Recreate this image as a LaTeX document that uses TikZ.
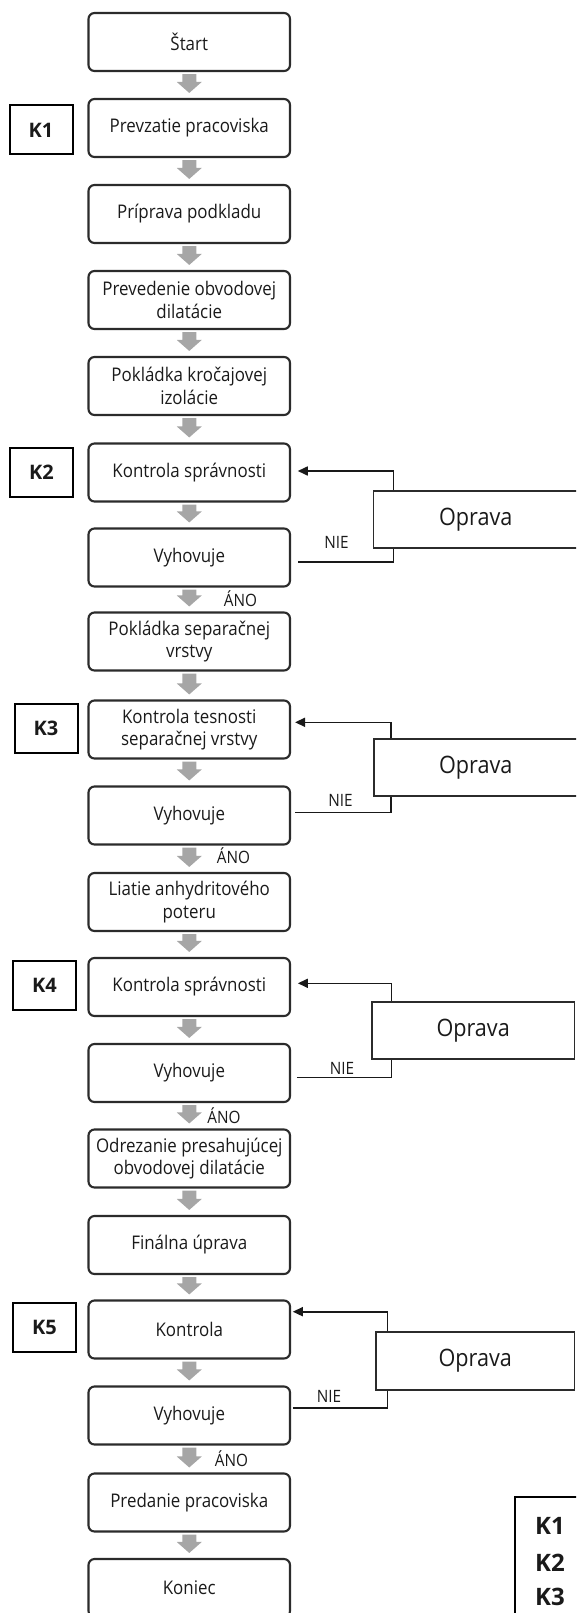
\documentclass[tikz,border=0pt]{standalone}
\usepackage{fontspec}
\setmainfont{Open Sans}[FakeStretch=0.9]
\newfontfamily\klabelfont{Open Sans}
\usetikzlibrary{arrows.meta,calc}
\definecolor{boxline}{HTML}{2B2B2B}
\definecolor{arrowgray}{HTML}{A6A6A6}
\definecolor{txt}{HTML}{1A1A1A}
\tikzset{
 stepbox/.style={draw=boxline, line width=2.1pt, rounded corners=6pt, minimum width=201.5pt, minimum height=58pt, inner sep=1pt, align=center, text=txt, font=\fontsize{18.8pt}{22.5pt}\selectfont},
 kbox/.style={draw=black, line width=2pt, minimum width=63pt, minimum height=49pt, inner sep=0pt, text=txt, font=\klabelfont\bfseries\fontsize{20pt}{22pt}\selectfont},
 opbox/.style={draw=boxline, fill=white, line width=1.8pt, inner sep=0pt, minimum height=57.5pt, text=txt, font=\fontsize{24pt}{26pt}\selectfont},
 fb/.style={draw=black!90, line width=1.6pt},
 fbarrow/.style={fb, -{Triangle[length=10pt,width=9pt]}},
 lbl/.style={font=\fontsize{17pt}{19pt}\selectfont, text=txt, inner sep=0pt},
 leg/.style={font=\klabelfont\bfseries\fontsize{24pt}{26pt}\selectfont, text=txt, inner sep=0pt, anchor=west},
}
\newcommand\garrow[2]{\fill[arrowgray] let \p1=(#1.south), \p2=(#2.north) in
  (\x1-7pt,\y1-2pt) -- (\x1+7pt,\y1-2pt) -- (\x1+7pt,\y2+16pt) -- (\x1+12.5pt,\y2+16pt)
  -- (\x1,\y2+5pt) -- (\x1-12.5pt,\y2+16pt) -- (\x1-7pt,\y2+16pt) -- cycle;}
\begin{document}
\begin{tikzpicture}[x=1pt,y=-1pt]
\useasboundingbox (0,0) rectangle (576,1613);
\clip (0,0) rectangle (576,1613);

% main column
\node[stepbox] (s1) at (189.25,42) {Štart};
\node[stepbox] (s2) at (189.25,128) {Prevzatie pracoviska};
\node[stepbox] (s3) at (189.25,214) {Príprava podkladu};
\node[stepbox] (s4) at (189.25,300) {Prevedenie obvodovej\\dilatácie};
\node[stepbox] (s5) at (189.25,386) {Pokládka kročajovej\\izolácie};
\node[stepbox] (s6) at (189.25,472.5) {Kontrola správnosti};
\node[stepbox] (s7) at (189.25,557.5) {Vyhovuje};
\node[stepbox] (s8) at (189.25,641.5) {Pokládka separačnej\\vrstvy};
\node[stepbox] (s9) at (189.25,729.5) {Kontrola tesnosti\\separačnej vrstvy};
\node[stepbox] (s10) at (189.25,815.5) {Vyhovuje};
\node[stepbox] (s11) at (189.25,902) {Liatie anhydritového\\poteru};
\node[stepbox] (s12) at (189.25,987) {Kontrola správnosti};
\node[stepbox] (s13) at (189.25,1073) {Vyhovuje};
\node[stepbox] (s14) at (189.25,1158.5) {Odrezanie presahujúcej\\obvodovej dilatácie};
\node[stepbox] (s15) at (189.25,1245) {Finálna úprava};
\node[stepbox] (s16) at (189.25,1329.5) {Kontrola};
\node[stepbox] (s17) at (189.25,1415.5) {Vyhovuje};
\node[stepbox] (s18) at (189.25,1502.5) {Predanie pracoviska};
\node[stepbox] (s19) at (189.25,1588) {Koniec};

% gray block arrows
\foreach \a/\b in {s1/s2,s2/s3,s3/s4,s4/s5,s5/s6,s6/s7,s7/s8,s8/s9,s9/s10,s10/s11,s11/s12,s12/s13,s13/s14,s14/s15,s15/s16,s16/s17,s17/s18,s18/s19}{\garrow{\a}{\b}}

% K labels
\node[kbox] (k1) at (41,130) {K1};
\node[kbox] (k2) at (41.5,472.5) {K2};
\node[kbox] (k3) at (46,728.5) {K3};
\node[kbox] (k4) at (44.5,985) {K4};
\node[kbox] (k5) at (44.5,1327) {K5};

% Oprava boxes
\node[opbox, minimum width=204.5pt] (op1) at (475.75,519.6) {\raisebox{3pt}{Oprava}};
\node[opbox, minimum width=204.4pt] (op2) at (475.8,767.5) {\raisebox{3pt}{Oprava}};
\node[opbox, minimum width=202.7pt] (op3) at (473.15,1030.5) {\raisebox{3pt}{Oprava}};
\node[opbox, minimum width=198.5pt] (op4) at (475.25,1361) {\raisebox{3pt}{Oprava}};

% feedback loops
\draw[fb] ($(s7.east)+(7,4.2)$) -| ($(op1.south west)+(20.8,0)$);
\draw[fbarrow] ($(op1.north west)+(20.8,0)$) |- ($(s6.east)+(6.7,-1.5)$);
\draw[fb] ($(s10.east)+(4,-3.2)$) -| ($(op2.south west)+(18.4,0)$);
\draw[fbarrow] ($(op2.north west)+(18.4,0)$) |- ($(s9.east)+(4,-7.2)$);
\draw[fb] ($(s13.east)+(5.7,4.3)$) -| ($(op3.south west)+(20.6,0)$);
\draw[fbarrow] ($(op3.north west)+(20.6,0)$) |- ($(s12.east)+(6.8,-3.7)$);
\draw[fb] ($(s17.east)+(1.7,-7.8)$) -| ($(op4.south west)+(12.3,0)$);
\draw[fbarrow] ($(op4.north west)+(12.3,0)$) |- ($(s16.east)+(1.7,-17.8)$);

% NIE / ANO labels
\node[lbl] (n1) at (336.5,542.7) {NIE};
\node[lbl] (n2) at (340.5,800.7) {NIE};
\node[lbl] (n3) at (342,1068.3) {NIE};
\node[lbl] (n4) at (329,1396.7) {NIE};
\node[lbl] (a1) at (240.5,599) {ÁNO};
\node[lbl] (a2) at (233.5,856) {ÁNO};
\node[lbl] (a3) at (224,1116) {ÁNO};
\node[lbl] (a4) at (231.5,1458.3) {ÁNO};

% legend
\draw[line width=2pt, black] (515,1630) -- (515,1497) -- (590,1497);
\node[leg] (l1) at (535,1525.8) {K1};
\node[leg] (l2) at (535,1563) {K2};
\node[leg] (l3) at (535,1596.7) {K3};
\end{tikzpicture}
\end{document}
